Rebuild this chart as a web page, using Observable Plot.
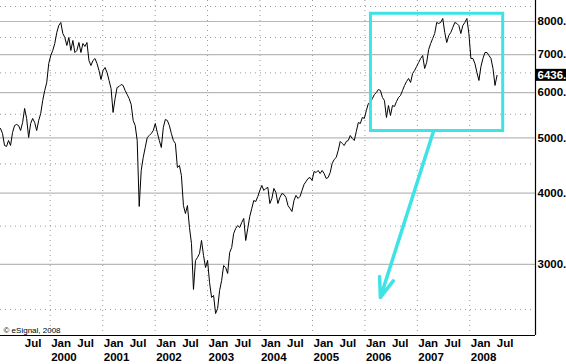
<!DOCTYPE html>
<html><head><meta charset="utf-8">
<script src="https://cdn.jsdelivr.net/npm/d3@7"></script>
<script src="https://cdn.jsdelivr.net/npm/@observablehq/plot@0.6"></script>
<style>body{margin:0;background:#fff;}</style>
</head><body><div id="chart"></div>
<script>
// Index closes read every two weeks from the picture, starting 1999-01-20
const startDate = "1999-01-20";
const stepDays = 14;
const closes = [
5192,5088,4848,4829,4947,4848,5109,5255,5277,5255,
5150,5319,5630,5407,5007,5298,5407,5319,5150,5363,
5517,5814,6054,6253,6751,6973,7116,7320,7652,7872,
7968,7621,7499,7261,7499,7116,7409,7058,7116,7349,
7058,7320,7232,7349,6834,6697,6834,6889,6751,6563,
6329,6563,6643,6511,6304,6103,5540,5861,6128,6153,
6203,6178,6054,5957,5861,5721,5363,5255,4947,3790,
4382,4619,4809,5007,5047,5088,5150,5298,5109,4947,
4809,5213,5385,5363,5255,5088,4947,4887,4436,4472,
4294,3804,3683,3804,3481,3263,2710,3046,3084,3134,
3303,3109,2961,3046,2787,2624,2645,2459,2509,2699,
2809,2985,2961,2891,3146,3210,3398,3467,3509,3481,
3552,3610,3303,3467,3639,3759,3882,3866,3946,4043,
4125,4043,4076,4092,3835,3914,4076,4010,3835,3930,
3994,3978,3930,3804,3759,3713,3882,3962,3914,3946,
4043,4142,4192,4243,4260,4209,4364,4346,4382,4329,
4382,4329,4243,4260,4346,4508,4582,4619,4751,4927,
4887,4848,4927,4947,5047,4987,4947,5130,5319,5298,
5429,5407,5584,5744,5768,5861,5957,6005,6079,6054,
5885,5814,5429,5698,5473,5698,5675,5791,5885,5933,
6054,6178,6278,6355,6253,6484,6563,6670,6779,6889,
6973,6616,6779,7145,7320,7469,7621,7968,7936,7968,
8098,7652,7349,7560,7652,7808,7968,7936,7872,7621,
7872,7968,8098,7621,6889,6889,6751,6511,6304,6670,
6889,7058,7058,6973,6889,6616,6178,6436
];
const lastValue = 6436;

const solidTicks = [3000, 4000, 5000, 6000, 7000, 8000];
const dottedTicks = [2500, 3500, 4500, 5500, 6500, 7500, 8500];
const halfYearDates = ["1999-07-01","2000-01-01","2000-07-01","2001-01-01","2001-07-01","2002-01-01","2002-07-01","2003-01-01","2003-07-01","2004-01-01","2004-07-01","2005-01-01","2005-07-01","2006-01-01","2006-07-01","2007-01-01","2007-07-01","2008-01-01","2008-07-01"];
const halfYearLabels = ["Jul","Jan","Jul","Jan","Jul","Jan","Jul","Jan","Jul","Jan","Jul","Jan","Jul","Jan","Jul","Jan","Jul","Jan","Jul"];
const yearLabels = ["2000","2001","2002","2003","2004","2005","2006","2007","2008"];
const xDomain = ["1999-01-20", "2009-04-03"];
const yDomain = [2250, 8708];
const boxX = ["2006-02-12", "2008-08-21"];
const boxY = [5140, 8253];
const arrowFrom = ["2007-04-23", 5130];
const arrowTo = ["2006-04-19", 2624];
const credit = "© eSignal, 2008";
const cyan = "#3fe3e6";

const t0 = new Date(startDate + "T00:00:00Z");
const data = closes.map((v, i) => ({date: d3.utcDay.offset(t0, i * stepDays), value: v}));
const D = s => new Date(s + "T00:00:00Z");
const font = "'Liberation Sans', Arial, sans-serif";

const chart = Plot.plot({
  width: 566, height: 364,
  marginTop: 0, marginLeft: 0, marginRight: 31, marginBottom: 29,
  x: {type: "utc", domain: xDomain.map(D), axis: null},
  y: {type: "log", domain: yDomain, axis: null},
  style: {fontFamily: font, background: "white", color: "black"},
  marks: [
    Plot.ruleY(dottedTicks, {stroke: "#999", strokeDasharray: "1,4"}),
    Plot.ruleX(yearLabels.map(y => D(y + "-01-01")), {stroke: "#999", strokeDasharray: "1,4"}),
    Plot.ruleY(solidTicks, {stroke: "#b8b8b8", strokeWidth: 1.2}),
    Plot.line(data, {x: "date", y: "value", stroke: "black", strokeWidth: 1}),
    Plot.rect([0], {x1: () => D(boxX[0]), x2: () => D(boxX[1]), y1: () => boxY[0], y2: () => boxY[1], fill: "none", stroke: cyan, strokeWidth: 3}),
    Plot.arrow([0], {x1: () => D(arrowFrom[0]), y1: () => arrowFrom[1], x2: () => D(arrowTo[0]), y2: () => arrowTo[1], stroke: cyan, strokeWidth: 3.5, headLength: 9, headAngle: 40}),
    Plot.ruleX([D(xDomain[1])], {stroke: "black", strokeWidth: 1.2}),
    Plot.ruleY([yDomain[0]], {stroke: "black", strokeWidth: 1.2}),
    Plot.axisY(solidTicks, {anchor: "right", label: null, tickSize: 0, tickPadding: 2, tickFormat: d => d + ".", fontSize: 11.5, fontWeight: "bold", fill: "black"}),
    Plot.rect([lastValue], {x1: () => D(xDomain[1]), x2: () => D("2010-06-01"), y1: d => d / 1.0245, y2: d => d * 1.0245, fill: "black"}),
    Plot.text([lastValue], {x: () => D(xDomain[1]), y: d => d, text: d => d + ".", dx: 2, textAnchor: "start", fill: "white", fontSize: 11.5, fontWeight: "bold"}),
    Plot.text(halfYearDates, {x: d => D(d), text: (d, i) => halfYearLabels[i], frameAnchor: "bottom", lineAnchor: "top", textAnchor: "start", dx: 1, dy: 3, fontSize: 11.5, fontWeight: "bold", fill: "black"}),
    Plot.text(yearLabels, {x: d => D(d + "-01-01"), text: d => d, frameAnchor: "bottom", lineAnchor: "top", textAnchor: "start", dx: 1, dy: 17.5, fontSize: 11.5, fontWeight: "bold", fill: "black"}),
    Plot.text([credit], {frameAnchor: "bottom-left", text: d => d, lineAnchor: "bottom", textAnchor: "start", dx: 3, dy: -3, fontSize: 8, fill: "black"})
  ]
});
document.getElementById("chart").appendChild(chart);
</script>
</body></html>
